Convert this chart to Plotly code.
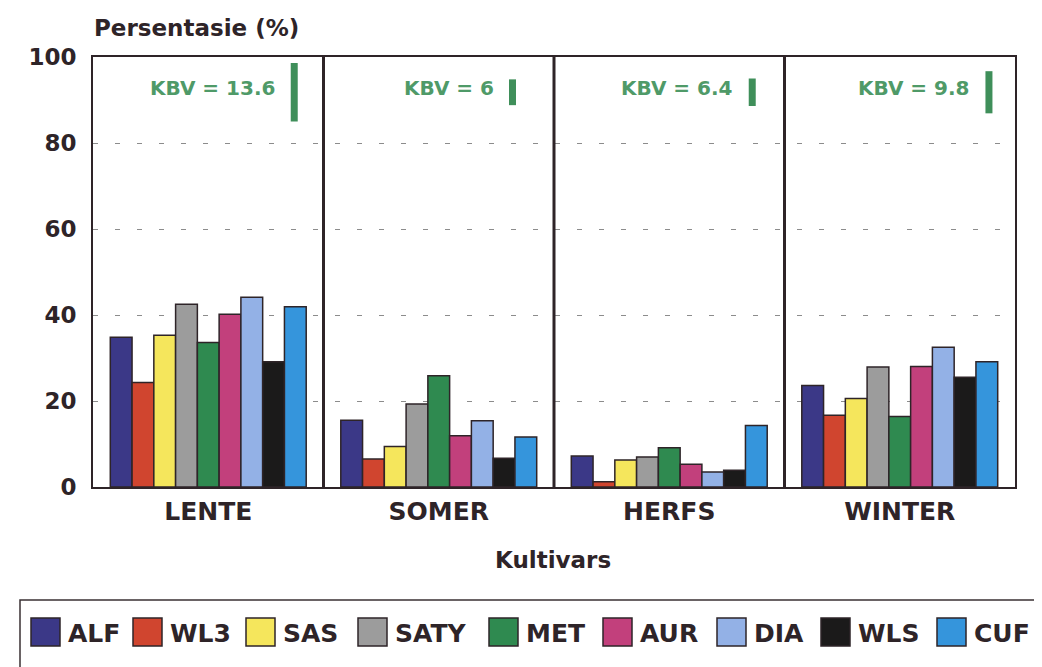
import plotly.graph_objects as go

# ---------------- data ----------------
seasons = ["LENTE", "SOMER", "HERFS", "WINTER"]
cultivars = ["ALF", "WL3", "SAS", "SATY", "MET", "AUR", "DIA", "WLS", "CUF"]

ALF = [34.8, 15.5, 7.2, 23.6]
WL3 = [24.3, 6.5, 1.2, 16.7]
SAS = [35.3, 9.4, 6.3, 20.6]
SATY = [42.5, 19.3, 7.0, 27.9]
MET = [33.6, 25.9, 9.1, 16.4]
AUR = [40.2, 11.9, 5.3, 28.0]
DIA = [44.1, 15.4, 3.5, 32.5]
WLS = [29.1, 6.7, 3.9, 25.5]
CUF = [41.9, 11.6, 14.3, 29.1]

kbv = [13.6, 6, 6.4, 9.8]
kbv_labels = ["KBV = 13.6", "KBV = 6", "KBV = 6.4", "KBV = 9.8"]

y_ticks = [0, 20, 40, 60, 80, 100]

series = [ALF, WL3, SAS, SATY, MET, AUR, DIA, WLS, CUF]

# ---------------- style ----------------
colors = ["#3b3887", "#d0452f", "#f5e65c", "#9c9c9c", "#2f8a50",
          "#c2407c", "#93b1e6", "#1b1a1a", "#3595dc"]
DARK = "#2e2428"
GREEN_LINE = "#3f8f5a"
GREEN_TEXT = "#4f9a68"
FONT = "DejaVu Sans"

# the page body has an 8px margin: size the figure so it fills the window
OFF = 8
W, H = 1042 - OFF, 667 - OFF
# plot area in page pixels: x 93..1015, y 57..487
L, R, T, B = 93 - OFF, 1042 - 1015, 57 - OFF, 667 - 487
PW, PH = W - L - R, H - T - B


def px_x(p):
    return (p - OFF - L) / PW


def px_y(p):
    return (H - B - (p - OFF)) / PH


xs = list(range(len(seasons)))

fig = go.Figure()
for name, vals, col in zip(cultivars, series, colors):
    fig.add_trace(go.Bar(
        x=xs, y=vals, name=name,
        marker=dict(color=col, line=dict(color=DARK, width=1.5)),
        showlegend=False,
    ))

# KBV (LSD) indicator bars
KBV_CENTER = 91.8
KBV_X_OFFSET = [0.373, 0.32, 0.36, 0.387]
for i, (k, lab) in enumerate(zip(kbv, kbv_labels)):
    xk = xs[i] + KBV_X_OFFSET[i]
    fig.add_trace(go.Scatter(
        x=[xk, xk], y=[KBV_CENTER + k / 2, KBV_CENTER - k / 2],
        mode="lines", line=dict(color=GREEN_LINE, width=7),
        showlegend=False, hoverinfo="skip",
    ))
    fig.add_annotation(
        x=xk, y=92.8, xref="x", yref="y", text=lab, showarrow=False,
        xanchor="right", yanchor="middle", xshift=-17,
        font=dict(family=FONT, size=20, color=GREEN_TEXT, weight="bold"),
    )

# panel dividers
for i in range(len(seasons) - 1):
    fig.add_shape(type="line", xref="x", yref="paper",
                  x0=xs[i] + 0.5, x1=xs[i] + 0.5, y0=0, y1=1,
                  line=dict(color=DARK, width=3), layer="above")

# axis title annotations
fig.add_annotation(x=px_x(92), y=px_y(28), xref="paper", yref="paper",
                   text="Persentasie (%)", showarrow=False,
                   xanchor="left", yanchor="middle",
                   font=dict(family=FONT, size=23, color=DARK, weight="bold"))
fig.add_annotation(x=px_x(553), y=px_y(560), xref="paper", yref="paper",
                   text="Kultivars", showarrow=False,
                   xanchor="center", yanchor="middle",
                   font=dict(family=FONT, size=23, color=DARK, weight="bold"))

# manual legend
fig.add_shape(type="rect", xref="paper", yref="paper",
              x0=px_x(20), x1=px_x(1060), y0=px_y(600), y1=px_y(720),
              line=dict(color="#3a3033", width=1.5), fillcolor="rgba(0,0,0,0)")
LEG_SQ_LEFT = [31, 133, 246, 358, 489, 603, 717, 821, 937]
SQ_W, SQ_TOP, SQ_BOT = 29, 618, 646
for name, col, xl in zip(cultivars, colors, LEG_SQ_LEFT):
    fig.add_shape(type="rect", xref="paper", yref="paper",
                  x0=px_x(xl), x1=px_x(xl + SQ_W),
                  y0=px_y(SQ_BOT), y1=px_y(SQ_TOP),
                  fillcolor=col, line=dict(color=DARK, width=1.5))
    fig.add_annotation(x=px_x(xl + SQ_W + 6), y=px_y(633), xref="paper", yref="paper",
                       text=name, showarrow=False, xanchor="left", yanchor="middle",
                       font=dict(family=FONT, size=25, color=DARK, weight="bold"))

fig.update_layout(
    width=W, height=H,
    margin=dict(l=L, r=R, t=T, b=B, pad=0),
    paper_bgcolor="white", plot_bgcolor="white",
    barmode="group", bargap=0.15, bargroupgap=0,
    showlegend=False,
    font=dict(family=FONT, color=DARK),
)
fig.update_xaxes(
    range=[-0.5, len(seasons) - 0.5],
    tickmode="array", tickvals=xs, ticktext=seasons,
    showgrid=False, zeroline=False,
    showline=True, mirror=True, linecolor=DARK, linewidth=2,
    ticks="", ticklabelstandoff=1,
    tickfont=dict(family=FONT, size=25, color=DARK, weight="bold"),
)
fig.update_yaxes(
    range=[0, 100], tickmode="array", tickvals=y_ticks,
    showgrid=True, gridcolor="#8c8c8c", gridwidth=1, griddash="5px,17px",
    zeroline=False,
    showline=True, mirror=True, linecolor=DARK, linewidth=2,
    ticks="", ticklabelstandoff=10,
    tickfont=dict(family=FONT, size=23, color=DARK, weight="bold"),
)

fig.write_html("out.html")
